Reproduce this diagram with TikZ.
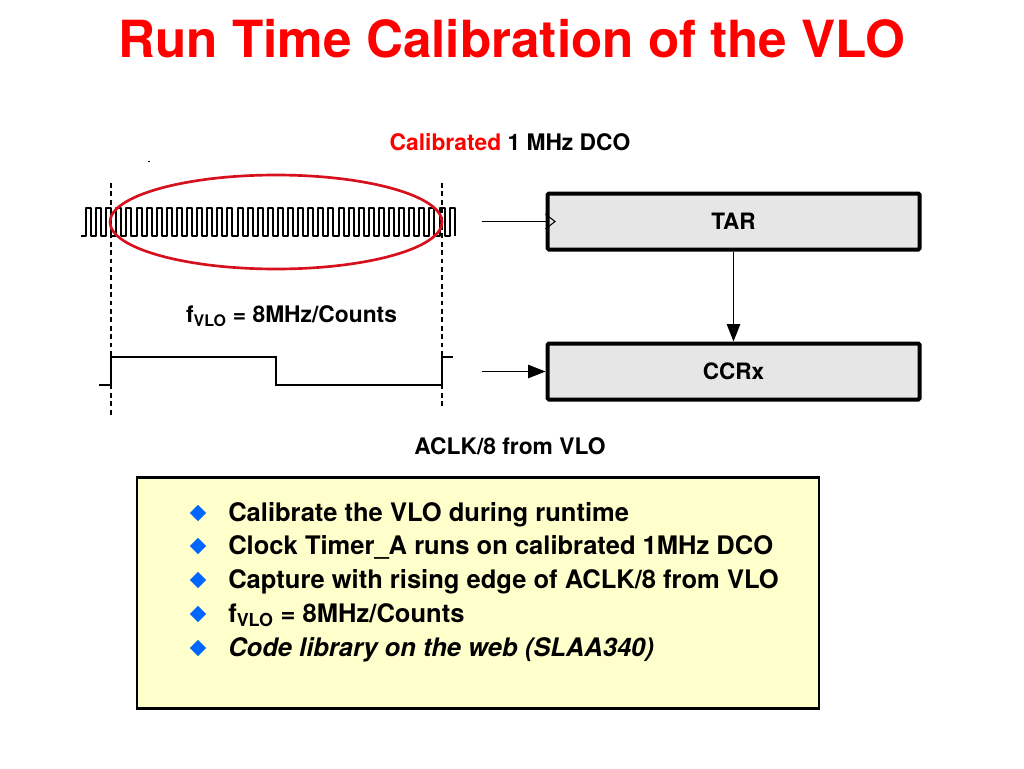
\documentclass[tikz,border=0pt]{standalone}
\usepackage{xcolor}
\usepackage{fontspec}
\setmainfont{TeX Gyre Heros}
\definecolor{titlered}{RGB}{255, 0, 0}
\definecolor{ovalred}{RGB}{214, 16, 28}
\definecolor{regfill}{RGB}{230, 230, 230}
\definecolor{notefill}{RGB}{255, 255, 204}
\definecolor{bulletblue}{RGB}{0, 102, 255}
\usetikzlibrary{shapes.geometric, arrows.meta, positioning}

\begin{document}
\begin{tikzpicture}[
    x=0.75pt, y=-0.75pt,
    register/.style={rectangle, draw=black, fill=regfill, line width=3pt, rounded corners=1pt, minimum width=279pt, minimum height=42pt, inner sep=0pt, font=\fontsize{16.9}{18}\selectfont\bfseries},
    label/.style={inner sep=0pt, font=\fontsize{17.1}{20}\selectfont\bfseries},
    wave/.style={black, line width=2pt},
    guide/.style={black, line width=2pt, dash pattern=on 3.6pt off 2.7pt},
    flow/.style={black, line width=1pt, -{Triangle[length=13pt, width=10pt]}},
    bullet/.style={diamond, fill=bulletblue, minimum width=12.5pt, minimum height=12.5pt, inner sep=0pt},
    item/.style={anchor=base west, inner sep=0pt, font=\fontsize{19.15}{22}\selectfont\bfseries}
]
    \useasboundingbox (0,0) rectangle (1024,768);

    % Title
    \node[inner sep=0pt, text=titlered, font=\fontsize{38.4}{44}\selectfont\bfseries] (title) at (512,39) {Run Time Calibration of the VLO};

    % Labels
    \node[label] (dco) at (510,142) {\textcolor{titlered}{Calibrated} 1 MHz DCO};
    \node[label] (fvlo) at (291.5,316) {f\textsubscript{VLO} = 8MHz/Counts};
    \node[label] (aclk) at (510,446) {ACLK/8 from VLO};
    \draw[black, line width=0.6pt] (147.5,161) -- (150,161);

    % Registers
    \node[register] (tar) at (733.5,221.5) {TAR};
    \node[register] (ccr) at (733.5,371.5) {CCRx};
    \draw[black, line width=0.8pt] ([yshift=5.6pt]tar.west) -- ++(9.5,7.5) -- ([yshift=-5.6pt]tar.west);
    \coordinate (tarin) at (482,221.5);
    \coordinate (ccrin) at (482,371.5);
    \draw[black, line width=1pt] (tarin) -- (tar.west);
    \draw[flow] (ccrin) -- (ccr.west);
    \draw[flow] (tar.south) -- (ccr.north);

    % DCO clock
    \draw[wave, line width=1.5pt, line join=round] (81,236) -- (86,236)
        \foreach \i in {0,...,35} {
            -- ++(0,-28) -- ++(5.05,0) -- ++(0,28) -- ++(5.05,0)
        } -- ++(0,-28) -- ++(5,0) -- ++(0,28);

    % ACLK/8
    \draw[wave] (99,385) -- (111,385) -- (111,357) -- (276,357) -- (276,385) -- (442,385) -- (442,357) -- (453,357);

    % Dashed guides
    \draw[guide] (111,183) -- (111,416);
    \draw[guide] (442,183) -- (442,406);

    % Oval
    \draw[ovalred, line width=2pt] (276,222) ellipse (166 and 47);

    % Notes box
    \node[rectangle, draw=black, fill=notefill, line width=1.8pt, minimum width=511.5pt, minimum height=173pt, inner sep=0pt] (notes) at (477.7,593) {};
    \foreach \y/\txt [count=\n] in {
        521/{Calibrate the VLO during runtime},
        554/{Clock Timer\_A runs on calibrated 1MHz DCO},
        588/{Capture with rising edge of ACLK/8 from VLO},
        622/{f\textsubscript{VLO} = 8MHz/Counts},
        656/{\itshape Code library on the web (SLAA340)}} {
        \node[bullet] (b\n) at (198,\y-8) {};
        \node[item] (t\n) at (228,\y) {\txt};
    }
\end{tikzpicture}
\end{document}
